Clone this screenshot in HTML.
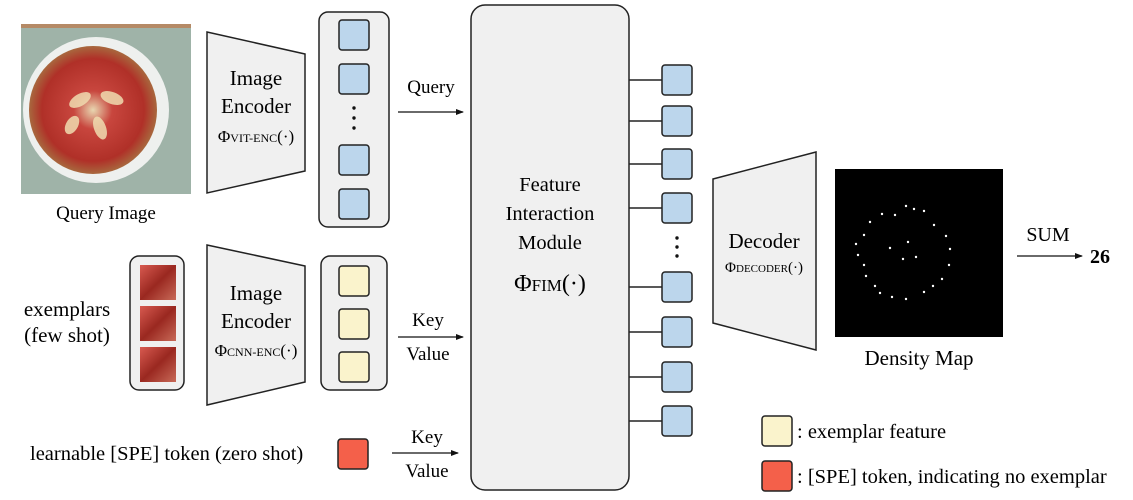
<!DOCTYPE html>
<html><head><meta charset="utf-8"><style>
html,body{margin:0;padding:0;background:#fff;}
svg{display:block;font-family:"Liberation Serif",serif;}
</style></head><body>
<svg width="1133" height="500" viewBox="0 0 1133 500" xmlns="http://www.w3.org/2000/svg">
<defs>
<marker id="ah" markerWidth="8" markerHeight="8" refX="7" refY="4" orient="auto" markerUnits="userSpaceOnUse"><path d="M0,1 L8,4 L0,7 Z" fill="#111"/></marker>
<radialGradient id="pie" cx="0.5" cy="0.5" r="0.5"><stop offset="0" stop-color="#e8d6b0"/><stop offset="0.3" stop-color="#c8463e"/><stop offset="0.8" stop-color="#b03028"/><stop offset="1" stop-color="#a8683e"/></radialGradient>
<linearGradient id="ex" x1="0" y1="0" x2="1" y2="1"><stop offset="0" stop-color="#d85a50"/><stop offset="0.5" stop-color="#9a2820"/><stop offset="1" stop-color="#c86a58"/></linearGradient>
</defs>
<!-- query image -->
<rect x="21" y="24" width="170" height="170" fill="#9fb3a8"/>
<rect x="21" y="24" width="170" height="4" fill="#b58a66"/>
<circle cx="96" cy="110" r="73" fill="#eef0ee"/>
<circle cx="93" cy="110" r="64" fill="url(#pie)"/>
<g fill="#f0dcb0" opacity="0.85">
<ellipse cx="80" cy="100" rx="12" ry="6" transform="rotate(-30 80 100)"/>
<ellipse cx="112" cy="98" rx="12" ry="6" transform="rotate(20 112 98)"/>
<ellipse cx="100" cy="128" rx="12" ry="6" transform="rotate(70 100 128)"/>
<ellipse cx="72" cy="125" rx="10" ry="6" transform="rotate(-60 72 125)"/>
</g>
<text x="106" y="219" font-size="19" text-anchor="middle">Query Image</text>
<!-- encoder 1 -->
<polygon points="207,32 305,54 305,171 207,193" fill="#f0f0f0" stroke="#222" stroke-width="1.5"/>
<text x="256" y="85" font-size="21" text-anchor="middle">Image</text>
<text x="256" y="113" font-size="21" text-anchor="middle">Encoder</text>
<text x="256" y="142" font-size="17" text-anchor="middle">Φ<tspan font-size="12">VIT-ENC</tspan>(·)</text>
<!-- column 1 -->
<rect x="319" y="12" width="70" height="215" rx="9" fill="#f0f0f0" stroke="#222" stroke-width="1.5"/>
<g fill="#bcd6ec" stroke="#222" stroke-width="1.5">
<rect x="339" y="20" width="30" height="30" rx="3"/>
<rect x="339" y="64" width="30" height="30" rx="3"/>
<rect x="339" y="145" width="30" height="30" rx="3"/>
<rect x="339" y="189" width="30" height="30" rx="3"/>
</g>
<g fill="#111"><circle cx="354" cy="108" r="1.7"/><circle cx="354" cy="118" r="1.7"/><circle cx="354" cy="128" r="1.7"/></g>
<text x="431" y="93" font-size="19" text-anchor="middle">Query</text>
<line x1="398" y1="112" x2="463" y2="112" stroke="#111" stroke-width="1.3" marker-end="url(#ah)"/>
<!-- exemplars -->
<text x="67" y="316" font-size="21" text-anchor="middle">exemplars</text>
<text x="67" y="342" font-size="21" text-anchor="middle">(few shot)</text>
<rect x="130" y="256" width="54" height="134" rx="9" fill="#f0f0f0" stroke="#222" stroke-width="1.5"/>
<rect x="140" y="265" width="36" height="35" fill="url(#ex)"/>
<rect x="140" y="306" width="36" height="35" fill="url(#ex)"/>
<rect x="140" y="347" width="36" height="35" fill="url(#ex)"/>
<polygon points="207,245 305,266 305,382 207,405" fill="#f0f0f0" stroke="#222" stroke-width="1.5"/>
<text x="256" y="300" font-size="21" text-anchor="middle">Image</text>
<text x="256" y="328" font-size="21" text-anchor="middle">Encoder</text>
<text x="256" y="356" font-size="17" text-anchor="middle">Φ<tspan font-size="12">CNN-ENC</tspan>(·)</text>
<rect x="321" y="256" width="66" height="134" rx="9" fill="#f0f0f0" stroke="#222" stroke-width="1.5"/>
<g fill="#faf3cc" stroke="#222" stroke-width="1.5">
<rect x="339" y="266" width="30" height="30" rx="3"/>
<rect x="339" y="309" width="30" height="30" rx="3"/>
<rect x="339" y="352" width="30" height="30" rx="3"/>
</g>
<text x="428" y="326" font-size="19" text-anchor="middle">Key</text>
<line x1="398" y1="337" x2="463" y2="337" stroke="#111" stroke-width="1.3" marker-end="url(#ah)"/>
<text x="428" y="360" font-size="19" text-anchor="middle">Value</text>
<!-- SPE -->
<text x="30" y="460" font-size="20.5">learnable [SPE] token (zero shot)</text>
<rect x="338" y="439" width="30" height="30" rx="3" fill="#f4604a" stroke="#222" stroke-width="1.5"/>
<text x="427" y="443" font-size="19" text-anchor="middle">Key</text>
<line x1="392" y1="453" x2="458" y2="453" stroke="#111" stroke-width="1.3" marker-end="url(#ah)"/>
<text x="427" y="477" font-size="19" text-anchor="middle">Value</text>
<!-- FIM -->
<rect x="471" y="5" width="158" height="485" rx="14" fill="#f0f0f0" stroke="#222" stroke-width="1.5"/>
<text x="550" y="191" font-size="20.5" text-anchor="middle">Feature</text>
<text x="550" y="220" font-size="20.5" text-anchor="middle">Interaction</text>
<text x="550" y="249" font-size="20.5" text-anchor="middle">Module</text>
<text x="550" y="291" font-size="24" text-anchor="middle">Φ<tspan font-size="17">FIM</tspan>(·)</text>
<g stroke="#222" stroke-width="1.5">
<line x1="629" y1="80" x2="662" y2="80"/><line x1="629" y1="121" x2="662" y2="121"/>
<line x1="629" y1="164" x2="662" y2="164"/><line x1="629" y1="208" x2="662" y2="208"/>
<line x1="629" y1="287" x2="662" y2="287"/><line x1="629" y1="332" x2="662" y2="332"/>
<line x1="629" y1="377" x2="662" y2="377"/><line x1="629" y1="421" x2="662" y2="421"/>
</g>
<g fill="#bcd6ec" stroke="#222" stroke-width="1.5">
<rect x="662" y="65" width="30" height="30" rx="3"/>
<rect x="662" y="106" width="30" height="30" rx="3"/>
<rect x="662" y="149" width="30" height="30" rx="3"/>
<rect x="662" y="193" width="30" height="30" rx="3"/>
<rect x="662" y="272" width="30" height="30" rx="3"/>
<rect x="662" y="317" width="30" height="30" rx="3"/>
<rect x="662" y="362" width="30" height="30" rx="3"/>
<rect x="662" y="406" width="30" height="30" rx="3"/>
</g>
<g fill="#111"><circle cx="677" cy="238" r="1.7"/><circle cx="677" cy="247" r="1.7"/><circle cx="677" cy="256" r="1.7"/></g>
<!-- decoder -->
<polygon points="713,179 816,152 816,350 713,323" fill="#f0f0f0" stroke="#222" stroke-width="1.5"/>
<text x="764" y="248" font-size="21" text-anchor="middle">Decoder</text>
<text x="764" y="272" font-size="15" text-anchor="middle">Φ<tspan font-size="11">DECODER</tspan>(·)</text>
<!-- density -->
<rect x="835" y="169" width="168" height="168" fill="#000"/>
<g fill="#fff">
<circle cx="906" cy="206" r="1.2"/><circle cx="914" cy="209" r="1.2"/><circle cx="924" cy="211" r="1.2"/>
<circle cx="882" cy="214" r="1.2"/><circle cx="895" cy="215" r="1.2"/><circle cx="870" cy="222" r="1.2"/>
<circle cx="934" cy="225" r="1.2"/><circle cx="864" cy="235" r="1.2"/><circle cx="946" cy="236" r="1.2"/>
<circle cx="856" cy="244" r="1.2"/><circle cx="950" cy="249" r="1.2"/><circle cx="908" cy="242" r="1.2"/>
<circle cx="890" cy="248" r="1.2"/><circle cx="858" cy="255" r="1.2"/><circle cx="903" cy="259" r="1.2"/>
<circle cx="916" cy="257" r="1.2"/><circle cx="949" cy="265" r="1.2"/><circle cx="864" cy="265" r="1.2"/>
<circle cx="866" cy="276" r="1.2"/><circle cx="942" cy="279" r="1.2"/><circle cx="875" cy="286" r="1.2"/>
<circle cx="933" cy="286" r="1.2"/><circle cx="880" cy="293" r="1.2"/><circle cx="924" cy="292" r="1.2"/>
<circle cx="892" cy="297" r="1.2"/><circle cx="906" cy="299" r="1.2"/>
</g>
<text x="919" y="365" font-size="21" text-anchor="middle">Density Map</text>
<text x="1048" y="241" font-size="20" text-anchor="middle">SUM</text>
<line x1="1017" y1="256" x2="1082" y2="256" stroke="#111" stroke-width="1.3" marker-end="url(#ah)"/>
<text x="1100" y="263" font-size="20" font-weight="bold" text-anchor="middle">26</text>
<!-- legend -->
<rect x="762" y="416" width="30" height="30" rx="3" fill="#faf3cc" stroke="#222" stroke-width="1.5"/>
<text x="797" y="438" font-size="20.5">: exemplar feature</text>
<rect x="762" y="461" width="30" height="30" rx="3" fill="#f4604a" stroke="#222" stroke-width="1.5"/>
<text x="797" y="483" font-size="20.5">: [SPE] token, indicating no exemplar</text>
</svg>
</body></html>
